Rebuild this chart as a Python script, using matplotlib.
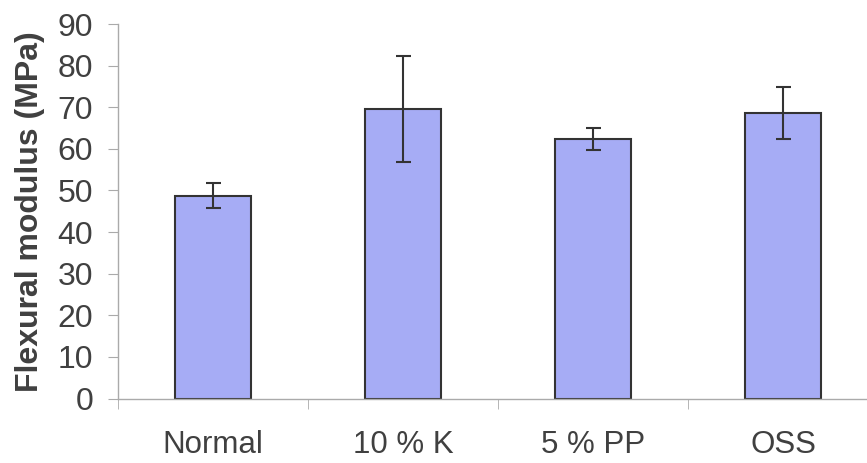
import matplotlib.pyplot as plt
import numpy as np

# Flexural modulus by specimen type
categories = ['Normal', '10 % K', '5 % PP', 'OSS']
modulus = [48.7, 69.6, 62.3, 68.6]
modulus_err = [3.0, 12.7, 2.6, 6.2]
yticks = [0, 10, 20, 30, 40, 50, 60, 70, 80, 90]

plt.rcParams['font.family'] = ['Liberation Sans', 'DejaVu Sans']

fig = plt.figure(figsize=(8.67, 4.63), dpi=100)
ax = fig.add_axes([118 / 867, 64.5 / 463, 760 / 867, 374.5 / 463])

x = np.arange(len(categories))
ax.bar(x, modulus, width=0.4, color='#a6acf5', edgecolor='#333333', linewidth=1.5, zorder=2)
ax.errorbar(x, modulus, yerr=modulus_err, fmt='none', ecolor='#333333',
            elinewidth=1.5, capsize=5.4, capthick=1.5, zorder=3)

ax.set_xlim(-0.5, len(categories) - 0.5)
ax.set_ylim(0, 90)
ax.set_yticks(yticks)

# category labels centered, tick marks between categories
ax.set_xticks(x)
ax.set_xticklabels(categories, fontsize=22.5, color='#404040')
ax.set_xticks(np.arange(len(categories) + 1) - 0.5, minor=True)
ax.tick_params(axis='x', which='major', length=0, pad=23)
ax.tick_params(axis='x', which='minor', length=7.2, color='#aaaaaa', direction='out')
ax.tick_params(axis='y', length=7.2, color='#aaaaaa', labelsize=23, labelcolor='#404040', pad=10.8)

for side in ['top', 'right']:
    ax.spines[side].set_visible(False)
for side in ['left', 'bottom']:
    ax.spines[side].set_color('#aaaaaa')
    ax.spines[side].set_linewidth(1)

ax.set_ylabel('Flexural modulus (MPa)', fontsize=23, fontweight='bold', color='#404040')
ax.yaxis.set_label_coords(-0.096, 0.5)

fig.savefig('out.png', dpi=100)
